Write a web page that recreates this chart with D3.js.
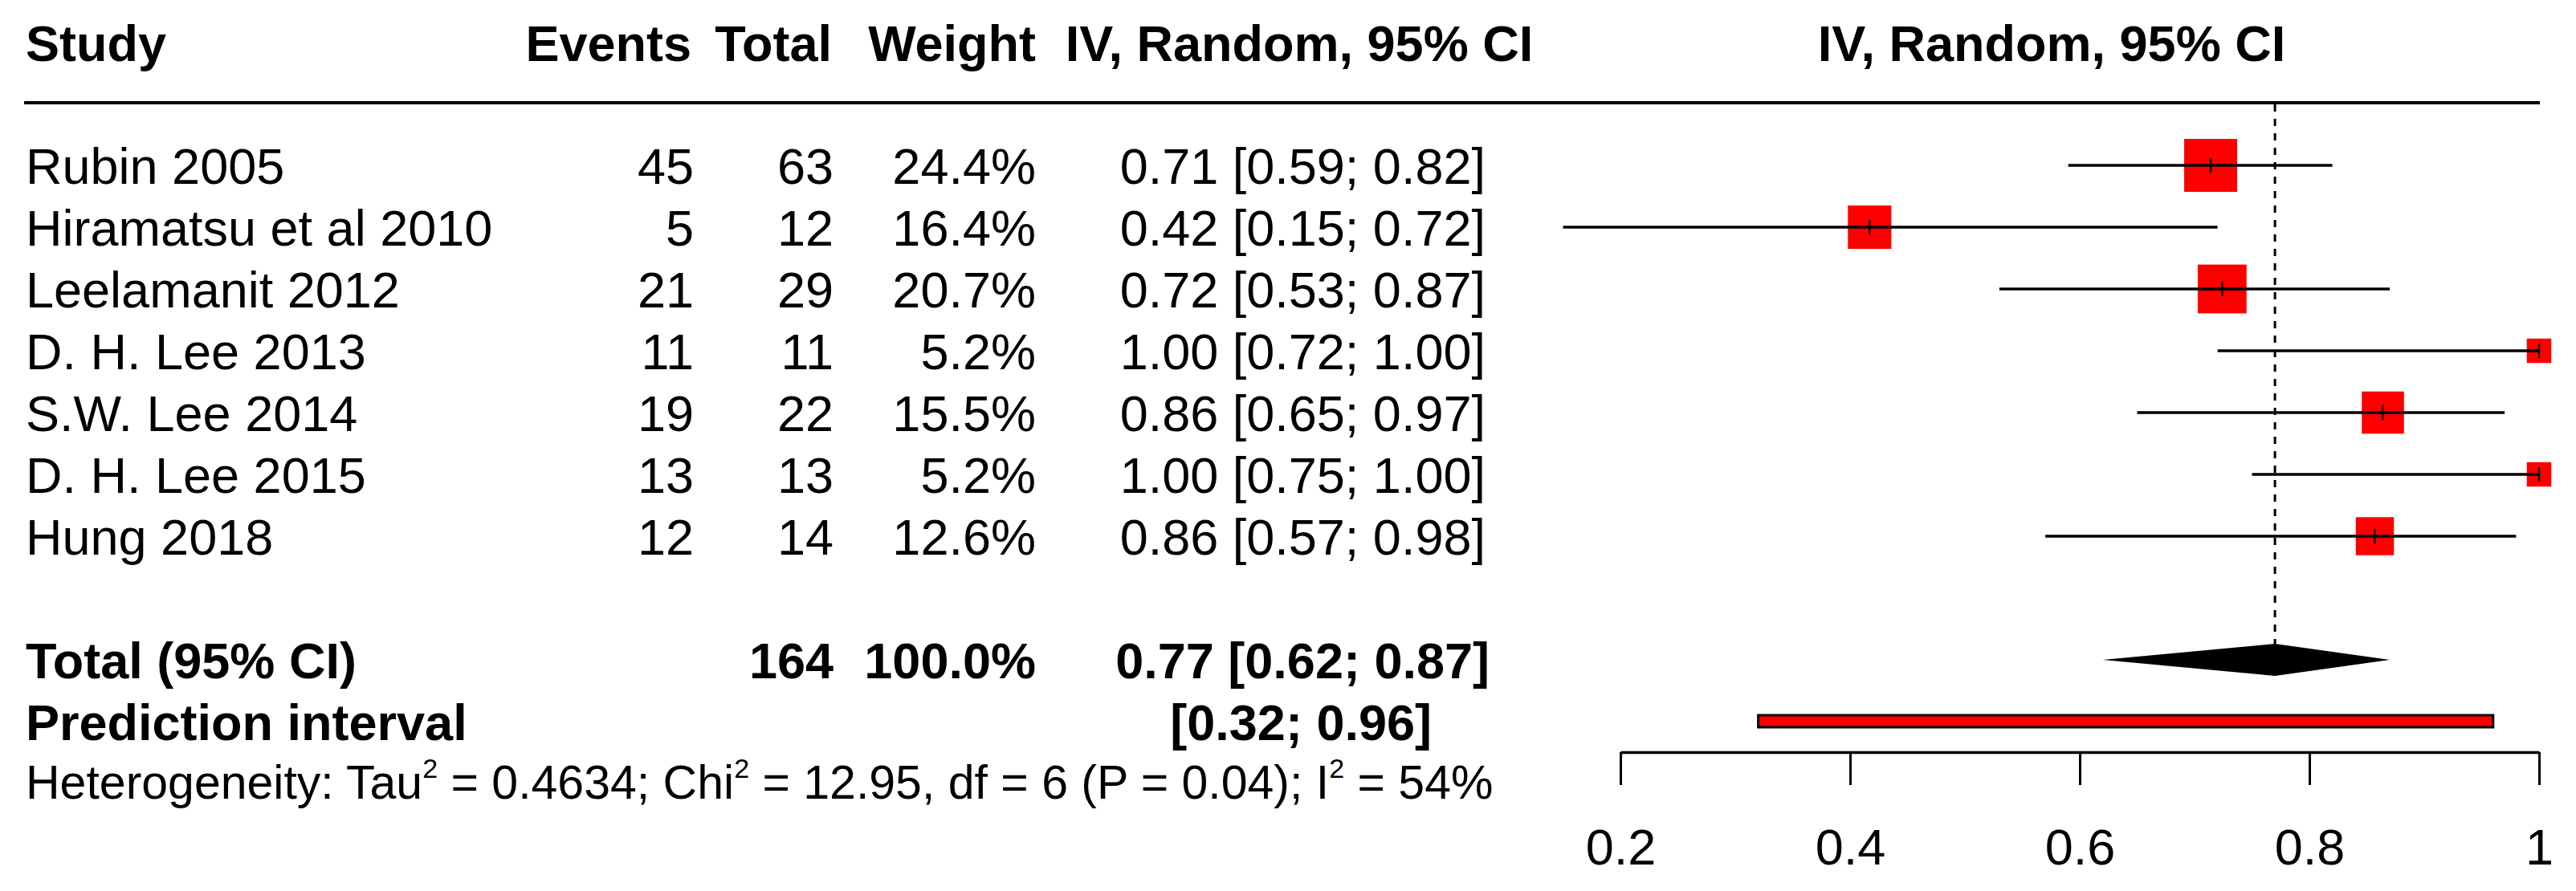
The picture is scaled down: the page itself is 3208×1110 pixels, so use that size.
<!DOCTYPE html>
<html lang="en">
<head>
  <meta charset="UTF-8">
  <title>Forest plot</title>
  <style>
    body { margin: 0; background: #fff; }
    text { font-family: "Liberation Sans", Arial, Helvetica, sans-serif; fill: #000; }
  </style>
</head>
<body>
  <script src="https://d3js.org/d3.v7.min.js"></script>
  <script>
    // study rows
    const studies = ["Rubin 2005", "Hiramatsu et al 2010", "Leelamanit 2012", "D. H. Lee 2013", "S.W. Lee 2014", "D. H. Lee 2015", "Hung 2018"];
    const events = [45, 5, 21, 11, 19, 13, 12];
    const totals = [63, 12, 29, 11, 22, 13, 14];
    const weights = [24.4, 16.4, 20.7, 5.2, 15.5, 5.2, 12.6];
    const estimates = [0.714, 0.417, 0.724, 1.00, 0.864, 1.00, 0.857];
    const lower = [0.59, 0.15, 0.53, 0.72, 0.65, 0.75, 0.57];
    const upper = [0.82, 0.72, 0.87, 1.00, 0.97, 1.00, 0.98];

    // pooled result
    const pooled = [0.77, 0.62, 0.87];   // estimate, lower, upper
    const predInterval = [0.32, 0.96];
    const totalN = 164;
    const totalWeight = "100.0%";
    const tickValues = [0.2, 0.4, 0.6, 0.8, 1];

    const width = 3208;
    const height = 1110;
    const fs = 63;

    const svg = d3.select("body").append("svg").attr("width", width).attr("height", height);

    const xScale = d3.scaleLinear().domain([0.2, 1]).range([2018, 3162]);
    const yRow = d3.scaleLinear().domain([0, 1]).range([206, 283]);
    const boxSize = d3.scaleSqrt().domain([0, 24.4]).range([0, 66]);
    const f2 = d3.format(".2f");
    const base = 23; // text baseline offset from row centre

    // header
    const header = [
      {t: "Study", x: 32, a: "start"},
      {t: "Events", x: 861, a: "end"},
      {t: "Total", x: 1036, a: "end"},
      {t: "Weight", x: 1290, a: "end"},
      {t: "IV, Random, 95% CI", x: 1618, a: "middle"},
      {t: "IV, Random, 95% CI", x: 2555, a: "middle"}
    ];
    svg.selectAll("text.head")
      .data(header)
      .enter()
      .append("text")
      .attr("class", "head")
      .attr("x", function(d) { return d.x; })
      .attr("y", 76)
      .attr("text-anchor", function(d) { return d.a; })
      .attr("font-size", fs)
      .attr("font-weight", "bold")
      .text(function(d) { return d.t; });

    svg.append("line")
      .attr("x1", 30).attr("x2", 3163)
      .attr("y1", 128).attr("y2", 128)
      .attr("stroke", "#000").attr("stroke-width", 4);

    // reference dashed line at pooled estimate
    svg.append("line")
      .attr("x1", xScale(pooled[0])).attr("x2", xScale(pooled[0]))
      .attr("y1", 130).attr("y2", yRow(8) - 20)
      .attr("stroke", "#000").attr("stroke-width", 3)
      .attr("stroke-dasharray", "9,9");

    const rows = studies.map(function(s, i) {
      return {study: s, ev: events[i], n: totals[i], w: weights[i], est: estimates[i], lo: lower[i], hi: upper[i], i: i};
    });

    const g = svg.selectAll("g.row").data(rows).enter().append("g").attr("class", "row");

    g.append("text").attr("x", 32).attr("y", function(d) { return yRow(d.i) + base; })
      .attr("font-size", fs).text(function(d) { return d.study; });
    g.append("text").attr("x", 864).attr("y", function(d) { return yRow(d.i) + base; })
      .attr("text-anchor", "end").attr("font-size", fs).text(function(d) { return d.ev; });
    g.append("text").attr("x", 1038).attr("y", function(d) { return yRow(d.i) + base; })
      .attr("text-anchor", "end").attr("font-size", fs).text(function(d) { return d.n; });
    g.append("text").attr("x", 1290).attr("y", function(d) { return yRow(d.i) + base; })
      .attr("text-anchor", "end").attr("font-size", fs).text(function(d) { return d.w.toFixed(1) + "%"; });
    g.append("text").attr("x", 1850).attr("y", function(d) { return yRow(d.i) + base; })
      .attr("text-anchor", "end").attr("font-size", fs)
      .text(function(d) { return f2(d.est) + " [" + f2(d.lo) + "; " + f2(d.hi) + "]"; });

    // boxes
    g.append("rect")
      .attr("x", function(d) { return xScale(d.est) - boxSize(d.w) / 2; })
      .attr("y", function(d) { return yRow(d.i) - boxSize(d.w) / 2; })
      .attr("width", function(d) { return boxSize(d.w); })
      .attr("height", function(d) { return boxSize(d.w); })
      .attr("fill", "#ff0000");
    // CI lines
    g.append("line")
      .attr("x1", function(d) { return xScale(d.lo); })
      .attr("x2", function(d) { return xScale(d.hi); })
      .attr("y1", function(d) { return yRow(d.i); })
      .attr("y2", function(d) { return yRow(d.i); })
      .attr("stroke", "#000").attr("stroke-width", 3.5);
    g.append("line")
      .attr("x1", function(d) { return xScale(d.est); })
      .attr("x2", function(d) { return xScale(d.est); })
      .attr("y1", function(d) { return yRow(d.i) - 9; })
      .attr("y2", function(d) { return yRow(d.i) + 9; })
      .attr("stroke", "#000").attr("stroke-width", 2.5);

    // total row
    const yT = yRow(8);
    const totalCells = [
      {t: "Total (95% CI)", x: 32, a: "start"},
      {t: totalN, x: 1038, a: "end"},
      {t: totalWeight, x: 1290, a: "end"},
      {t: f2(pooled[0]) + " [" + f2(pooled[1]) + "; " + f2(pooled[2]) + "]", x: 1855, a: "end"}
    ];
    svg.selectAll("text.tot").data(totalCells).enter().append("text")
      .attr("class", "tot")
      .attr("x", function(d) { return d.x; })
      .attr("y", yT + base)
      .attr("text-anchor", function(d) { return d.a; })
      .attr("font-size", fs).attr("font-weight", "bold")
      .text(function(d) { return d.t; });

    svg.append("path")
      .attr("d", d3.line()([
        [xScale(pooled[1]), yT], [xScale(pooled[0]), yT - 20],
        [xScale(pooled[2]), yT], [xScale(pooled[0]), yT + 20]
      ]) + "Z")
      .attr("fill", "#000");

    // prediction interval
    const yP = yRow(9);
    svg.append("text").attr("x", 32).attr("y", yP + base)
      .attr("font-size", fs).attr("font-weight", "bold").text("Prediction interval");
    svg.append("text").attr("x", 1783).attr("y", yP + base)
      .attr("text-anchor", "end")
      .attr("font-size", fs).attr("font-weight", "bold")
      .text("[" + f2(predInterval[0]) + "; " + f2(predInterval[1]) + "]");
    svg.append("rect")
      .attr("x", xScale(predInterval[0]))
      .attr("y", yP - 8)
      .attr("width", xScale(predInterval[1]) - xScale(predInterval[0]))
      .attr("height", 15)
      .attr("fill", "#ff0000")
      .attr("stroke", "#000").attr("stroke-width", 3);

    // heterogeneity
    const het = svg.append("text").attr("x", 32).attr("y", 995).attr("font-size", 59);
    const hetParts = [["Heterogeneity: Tau", false], ["2", true], [" = 0.4634; Chi", false], ["2", true],
      [" = 12.95, df = 6 (P = 0.04); I", false], ["2", true], [" = 54%", false]];
    hetParts.forEach(function(p, k) {
      const ts = het.append("tspan").text(p[0]);
      if (p[1]) { ts.attr("font-size", 34).attr("dy", -26); }
      else if (k > 0) { ts.attr("dy", 26); }
    });

    // axis
    const axis = d3.axisBottom(xScale)
      .tickValues(tickValues)
      .tickSize(41)
      .tickSizeOuter(0)
      .tickPadding(54)
      .tickFormat(d3.format("~g"));
    const ax = svg.append("g")
      .attr("transform", "translate(0,937)")
      .call(axis);
    ax.select(".domain").attr("stroke-width", 3.5);
    ax.selectAll(".tick line").attr("stroke-width", 3);
    ax.selectAll(".tick text")
      .attr("font-size", fs)
      .attr("font-family", "Liberation Sans, Arial, sans-serif");
  </script>
</body>
</html>
